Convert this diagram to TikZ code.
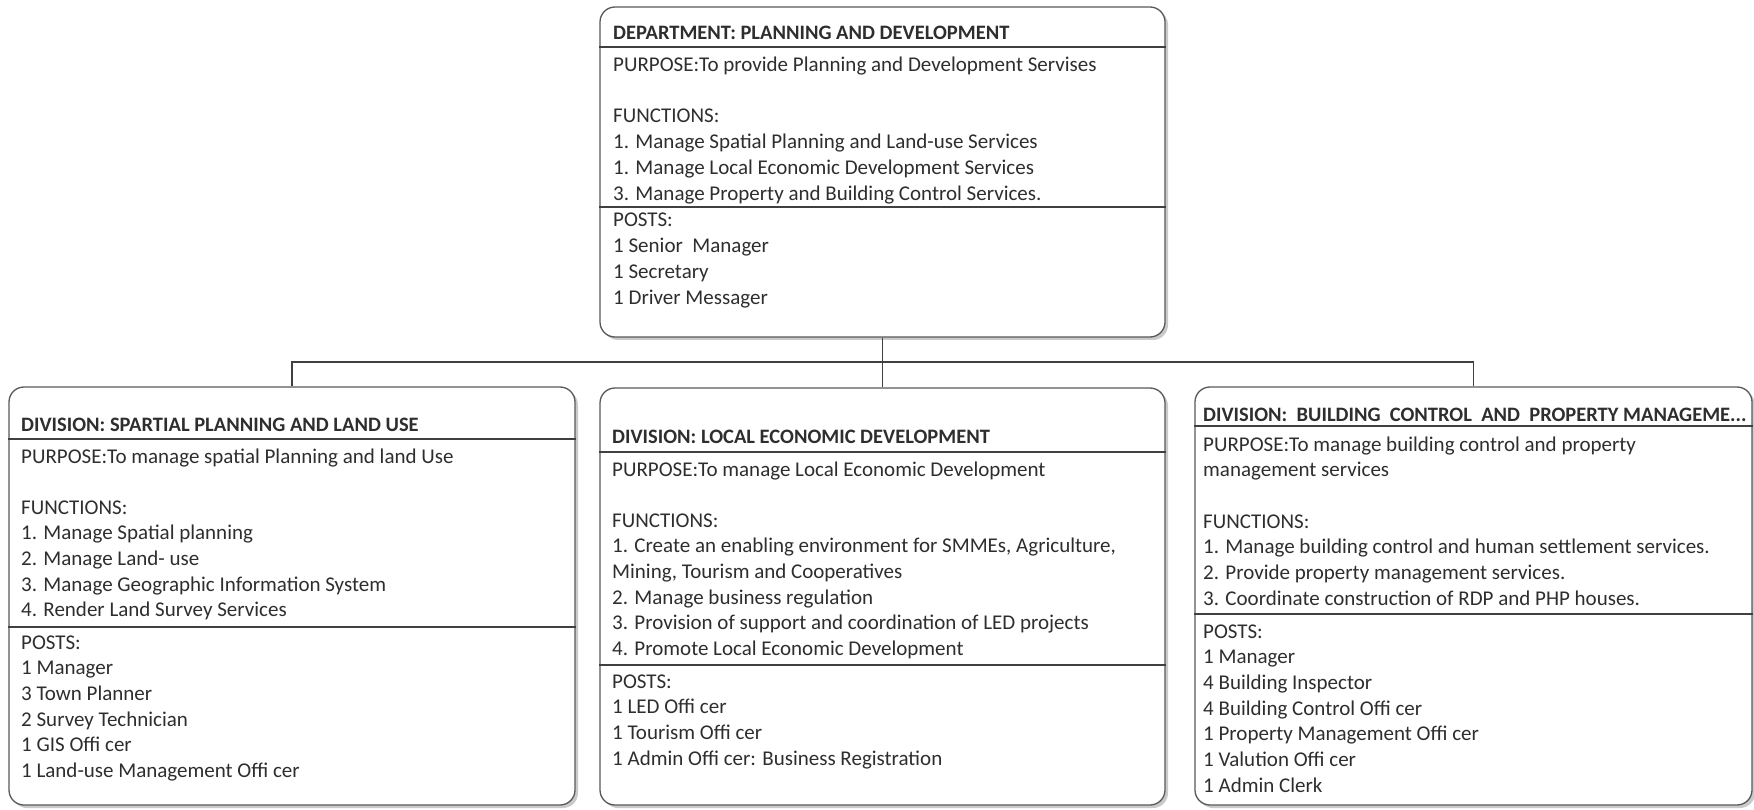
\documentclass[tikz,border=0pt]{standalone}
\usepackage{fontspec}
\setmainfont{Carlito}
\usetikzlibrary{shadows}
\newcommand\txtlines[4]{\foreach \l [count=\i from 0] in {#4} {\node[txt] (#1-\i) at (#2, #3+\i*25.7) {\l};}}
\begin{document}
\begin{tikzpicture}[x=1pt,y=-1pt,
  box/.style={draw=black!65, line width=1.3pt, rounded corners=15pt, fill=white, inner sep=0pt,
    drop shadow={shadow xshift=3pt, shadow yshift=-3pt, fill=black!35, opacity=0.6}},
  sepline/.style={draw=black!75, line width=1.3pt},
  conn/.style={draw=black!75, line width=1.3pt},
  txt/.style={anchor=base west, inner sep=0pt, text=black!82, font=\fontsize{21}{25.7}\selectfont},
  ttl/.style={txt, font=\bfseries\fontsize{20.5}{25.7}\selectfont}]
\useasboundingbox (0,0) rectangle (1754,810);

% boxes
\node[box, minimum width=565pt, minimum height=330pt] (top) at (882.5,172) {};
\node[box, minimum width=566pt, minimum height=418pt] (divL) at (292,596) {};
\node[box, minimum width=565pt, minimum height=417pt] (divM) at (882.5,596.5) {};
\node[box, minimum width=557pt, minimum height=418pt] (divR) at (1473.5,596) {};

% separators
\draw[sepline] (top.west |- 0,47) -- (top.east |- 0,47);
\draw[sepline] (top.west |- 0,207) -- (top.east |- 0,207);
\draw[sepline] (divL.west |- 0,439) -- (divL.east |- 0,439);
\draw[sepline] (divL.west |- 0,627) -- (divL.east |- 0,627);
\draw[sepline] (divM.west |- 0,452) -- (divM.east |- 0,452);
\draw[sepline] (divM.west |- 0,665) -- (divM.east |- 0,665);
\draw[sepline] (divR.west |- 0,426) -- (divR.east |- 0,426);
\draw[sepline] (divR.west |- 0,614) -- (divR.east |- 0,614);

% connectors
\coordinate (bus) at (0,362);
\draw[conn] (top.south) -- (divM.north);
\draw[conn] (divL.north) |- (bus -| top.south) -| (divR.north);

% top box text
\node[ttl] (ttop) at (613,40) {DEPARTMENT: PLANNING AND DEVELOPMENT};
\txtlines{ptop}{613}{72}{PURPOSE:To provide Planning and Development Servises}
\txtlines{ftop}{613}{123}{FUNCTIONS:,
1. Manage Spatial Planning and Land-use Services,
1. Manage Local Economic Development Services,
3. Manage Property and Building Control Services.}
\txtlines{stop}{613}{227}{POSTS:,
1 Senior~ Manager,
1 Secretary,
1 Driver Messager}

% left box text
\node[ttl] (tL) at (21,431) {DIVISION: SPARTIAL PLANNING AND LAND USE};
\txtlines{pL}{21}{463}{PURPOSE:To manage spatial Planning and land Use}
\txtlines{fL}{21}{514}{FUNCTIONS:,
1. Manage Spatial planning,
2. Manage Land- use,
3. Manage Geographic Information System,
4. Render Land Survey Services}
\txtlines{sL}{21}{649}{POSTS:,
1 Manager,
3 Town Planner,
2 Survey Technician,
1 GIS Offi cer,
1 Land-use Management Offi cer}

% middle box text
\node[ttl] (tM) at (612,443) {DIVISION: LOCAL ECONOMIC DEVELOPMENT};
\txtlines{pM}{612}{476}{PURPOSE:To manage Local Economic Development}
\txtlines{fM}{612}{527}{FUNCTIONS:,
{1. Create an enabling environment for SMMEs, Agriculture,},
{Mining, Tourism and Cooperatives},
2. Manage business regulation,
3. Provision of support and coordination of LED projects,
4. Promote Local Economic Development}
\txtlines{sM}{612}{688}{POSTS:,
1 LED Offi cer,
1 Tourism Offi cer,
1 Admin Offi cer: Business Registration}

% right box text
\node[ttl] (tR) at (1203,421) {DIVISION:~ BUILDING~ CONTROL~ AND~ PROPERTY MANAGEME...};
\txtlines{pR}{1203}{451}{PURPOSE:To manage building control and property,
management services}
\txtlines{fR}{1203}{528}{FUNCTIONS:,
1. Manage building control and human settlement services.,
2. Provide property management services.,
3. Coordinate construction of RDP and PHP houses.}
\txtlines{sR}{1203}{638}{POSTS:,
1 Manager,
4 Building Inspector,
4 Building Control Offi cer,
1 Property Management Offi cer,
1 Valution Offi cer,
1 Admin Clerk}
\end{tikzpicture}
\end{document}
